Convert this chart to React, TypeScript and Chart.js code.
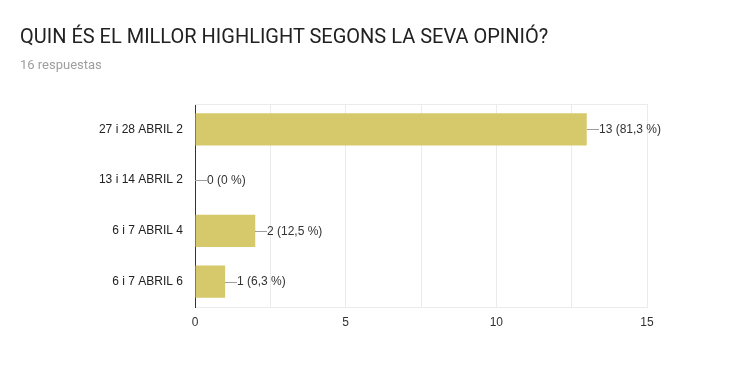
import React, { useEffect, useRef } from "react";
import { Chart, registerables } from "chart.js";

Chart.register(...registerables);

const TITLE = "QUIN ÉS EL MILLOR HIGHLIGHT SEGONS LA SEVA OPINIÓ?";
const SUBTITLE = "16 respuestas";
const categories = ["27 i 28 ABRIL 2", "13 i 14 ABRIL 2", "6 i 7 ABRIL 4", "6 i 7 ABRIL 6"];
const counts = [13, 0, 2, 1];
const percentLabels = ["81,3 %", "0 %", "12,5 %", "6,3 %"];
const xMax = 15;
const xLabelStep = 5;
const xGridStep = 2.5;

const FONT = '"Liberation Sans", Arial, sans-serif';

const barLabelPlugin = {
  id: "barLabels",
  afterDatasetsDraw(chart: any) {
    const ctx = chart.ctx;
    const meta = chart.getDatasetMeta(0);
    ctx.save();
    ctx.font = `12px ${FONT}`;
    ctx.textBaseline = "middle";
    ctx.textAlign = "left";
    meta.data.forEach((bar: any, i: number) => {
      const x = Math.round(bar.x);
      const y = Math.round(bar.y) + 0.5;
      ctx.strokeStyle = "#9e9e9e";
      ctx.lineWidth = 1;
      ctx.beginPath();
      ctx.moveTo(x, y);
      ctx.lineTo(x + 12, y);
      ctx.stroke();
      ctx.fillStyle = "#333";
      ctx.fillText(`${counts[i]} (${percentLabels[i]})`, x + 12, bar.y + 0.5);
    });
    ctx.restore();
  },
};

const framePlugin = {
  id: "frameTop",
  beforeDatasetsDraw(chart: any) {
    const { ctx, chartArea } = chart;
    ctx.save();
    ctx.strokeStyle = "#ebebeb";
    ctx.lineWidth = 1;
    ctx.beginPath();
    ctx.moveTo(chartArea.left, Math.round(chartArea.top) + 0.5);
    ctx.lineTo(chartArea.right, Math.round(chartArea.top) + 0.5);
    ctx.stroke();
    ctx.restore();
  },
};

export default function App() {
  const canvasRef = useRef<HTMLCanvasElement | null>(null);

  useEffect(() => {
    document.body.style.margin = "0";
    document.body.style.background = "#fff";
    const canvas = canvasRef.current;
    if (!canvas) return;
    const chart = new Chart(canvas, {
      type: "bar",
      data: {
        labels: categories,
        datasets: [
          {
            data: counts,
            backgroundColor: "#d6c96b",
            borderWidth: 0,
            barPercentage: 0.634,
            categoryPercentage: 1,
          },
        ],
      },
      options: {
        indexAxis: "y",
        responsive: false,
        animation: false,
        events: [],
        layout: { padding: { left: 0, right: 88, top: 104, bottom: 0 } },
        plugins: {
          legend: { display: false },
          tooltip: { enabled: false },
          title: { display: false },
        },
        scales: {
          x: {
            type: "linear",
            min: 0,
            max: xMax,
            ticks: {
              stepSize: xGridStep,
              autoSkip: false,
              maxRotation: 0,
              padding: 8,
              color: "#333",
              font: { family: FONT, size: 12 },
              callback: (v: any) => (Number(v) % xLabelStep === 0 ? String(v) : ""),
            },
            grid: {
              drawTicks: false,
              color: (c: any) => (c.tick && c.tick.value === 0 ? "#333" : "#ebebeb"),
            },
            border: { display: true, color: "#ebebeb" },
            afterFit: (scale: any) => {
              scale.height = 82;
            },
          },
          y: {
            type: "category",
            ticks: {
              padding: 12,
              color: "#222",
              font: { family: FONT, size: 12 },
            },
            grid: { display: false, drawTicks: false },
            border: { display: true, color: "#333", width: 1 },
            afterFit: (scale: any) => {
              scale.width = 195;
            },
          },
        },
      },
      plugins: [framePlugin, barLabelPlugin],
    } as any);
    return () => chart.destroy();
  }, []);

  return (
    <div style={{ position: "relative", width: 735, height: 389, background: "#fff", overflow: "hidden" }}>
      <canvas ref={canvasRef} width={735} height={389} style={{ position: "absolute", left: 0, top: 0, display: "block" }} />
      <div
        style={{
          position: "absolute",
          left: 20,
          top: 26,
          fontFamily: "Roboto, sans-serif",
          fontSize: 20,
          lineHeight: "20px",
          color: "#212121",
          whiteSpace: "nowrap",
        }}
      >
        {TITLE}
      </div>
      <div
        style={{
          position: "absolute",
          left: 20,
          top: 58,
          fontFamily: "Roboto, sans-serif",
          fontSize: 13,
          lineHeight: "13px",
          color: "#9e9e9e",
          whiteSpace: "nowrap",
        }}
      >
        {SUBTITLE}
      </div>
    </div>
  );
}
